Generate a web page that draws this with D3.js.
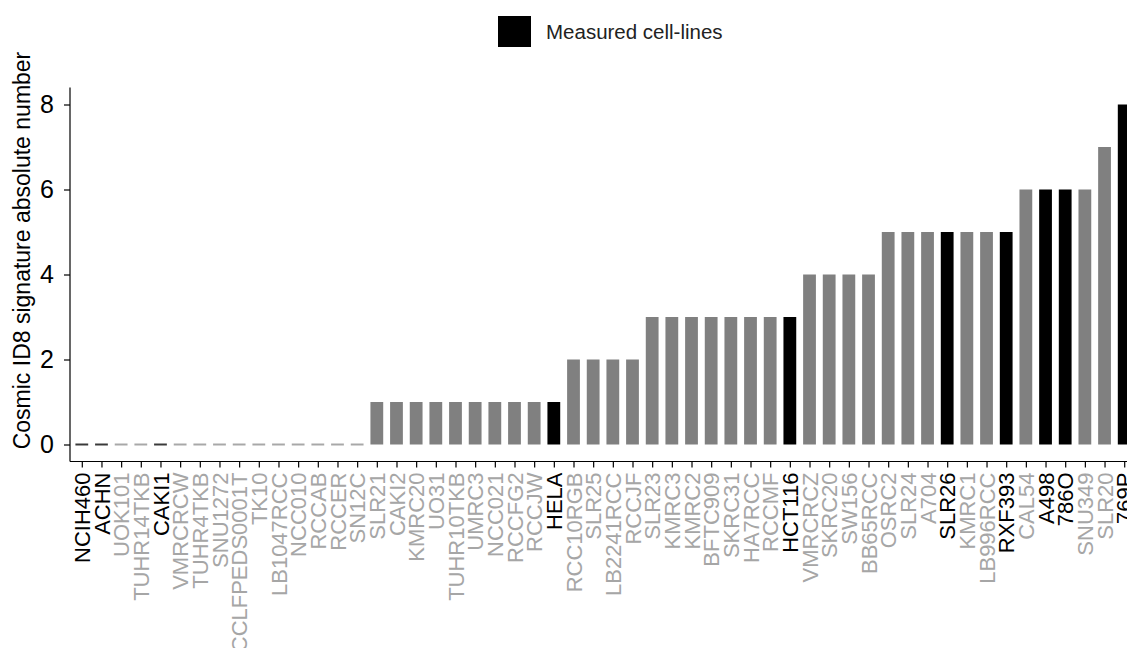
<!DOCTYPE html>
<html>
<head>
<meta charset="utf-8">
<script src="https://cdn.jsdelivr.net/npm/d3@7"></script>
<style>
  html, body { margin: 0; padding: 0; background: #fff; }
  svg { display: block; }
  text { font-family: "Liberation Sans", Arial, sans-serif; }
</style>
</head>
<body>
<svg id="chart" width="1127" height="648"></svg>
<script>
const categories = ["NCIH460","ACHN","UOK101","TUHR14TKB","CAKI1","VMRCRCW","TUHR4TKB","SNU1272","CCLFPEDS0001T","TK10","LB1047RCC","NCC010","RCCAB","RCCER","SN12C","SLR21","CAKI2","KMRC20","UO31","TUHR10TKB","UMRC3","NCC021","RCCFG2","RCCJW","HELA","RCC10RGB","SLR25","LB2241RCC","RCCJF","SLR23","KMRC3","KMRC2","BFTC909","SKRC31","HA7RCC","RCCMF","HCT116","VMRCRCZ","SKRC20","SW156","BB65RCC","OSRC2","SLR24","A704","SLR26","KMRC1","LB996RCC","RXF393","CAL54","A498","786O","SNU349","SLR20","769P"];
const values = [0,0,0,0,0,0,0,0,0,0,0,0,0,0,0,1,1,1,1,1,1,1,1,1,1,2,2,2,2,3,3,3,3,3,3,3,3,4,4,4,4,5,5,5,5,5,5,5,6,6,6,6,7,8];
const measured = ["NCIH460","ACHN","CAKI1","HELA","HCT116","SLR26","RXF393","A498","786O","769P"];
const yTicks = [0,2,4,6,8];
const legendLabel = "Measured cell-lines";
const yTitle = "Cosmic ID8 signature absolute number";

const data = categories.map((c,i)=>({name:c, value:values[i], measured: measured.includes(c)}));

const svg = d3.select("#chart");
const pLeft = 70, pRight = 1136, pTop = 87.5, pBottom = 461.5;

const x = d3.scalePoint().domain(categories).range([pLeft, pRight]).padding(0.6);
const y = d3.scaleLinear().domain([-0.4, 8.4]).range([pBottom, pTop]);
const bw = x.step() * 0.65;

// bars
const g = svg.append("g");
g.selectAll("rect.bar").data(data.filter(d=>d.value>0)).join("rect")
  .attr("class","bar")
  .attr("x", d=>x(d.name)-bw/2)
  .attr("width", bw)
  .attr("y", d=>y(d.value))
  .attr("height", d=>y(0)-y(d.value))
  .attr("fill", d=>d.measured ? "#000000" : "#808080");

// zero-valued bars appear as short flat dashes
g.selectAll("line.zero").data(data.filter(d=>d.value===0)).join("line")
  .attr("class","zero")
  .attr("x1", d=>x(d.name)-bw/2)
  .attr("x2", d=>x(d.name)+bw/2)
  .attr("y1", y(0)).attr("y2", y(0))
  .attr("stroke", d=>d.measured ? "#3a3a3a" : "#a8a8a8")
  .attr("stroke-width", 2);

// y axis
const yAxis = svg.append("g").attr("transform",`translate(${pLeft},0)`)
  .call(d3.axisLeft(y).tickValues(yTicks).tickSize(6).tickPadding(10).tickFormat(d3.format("d")));
yAxis.select(".domain").attr("stroke","#000").attr("stroke-width",1.2).attr("d",`M0,${pTop}V${pBottom}`);
yAxis.selectAll(".tick line").attr("stroke","#000").attr("stroke-width",1.2);
yAxis.selectAll(".tick text").attr("font-size",25).attr("fill","#000")
  .attr("font-family","Liberation Sans, Arial, sans-serif");

// x axis
const xAxis = svg.append("g").attr("transform",`translate(0,${pBottom})`)
  .call(d3.axisBottom(x).tickSize(6).tickPadding(4));
xAxis.select(".domain").attr("stroke","#000").attr("stroke-width",1.2).attr("d",`M${pLeft},0H${pRight}`);
xAxis.selectAll(".tick line").attr("stroke","#000").attr("stroke-width",1.2);
xAxis.selectAll(".tick text")
  .attr("font-size",22)
  .attr("font-family","Liberation Sans, Arial, sans-serif")
  .attr("fill", d=>measured.includes(d) ? "#000" : "#a6a6a6")
  .attr("text-anchor","end")
  .attr("dy","0.35em")
  .attr("x",0).attr("y",0)
  .attr("transform","translate(0,11) rotate(-90)");

// y title
svg.append("text")
  .attr("transform",`translate(30,${(pTop+pBottom)/2 - 24}) rotate(-90)`)
  .attr("text-anchor","middle")
  .attr("font-size",23)
  .attr("fill","#000")
  .text(yTitle);

// legend
svg.append("rect").attr("x",498).attr("y",16).attr("width",33).attr("height",31).attr("fill","#000");
svg.append("text").attr("x",546).attr("y",32).attr("dy","0.35em")
  .attr("font-size",20.5).attr("fill","#222").text(legendLabel);
</script>
</body>
</html>
